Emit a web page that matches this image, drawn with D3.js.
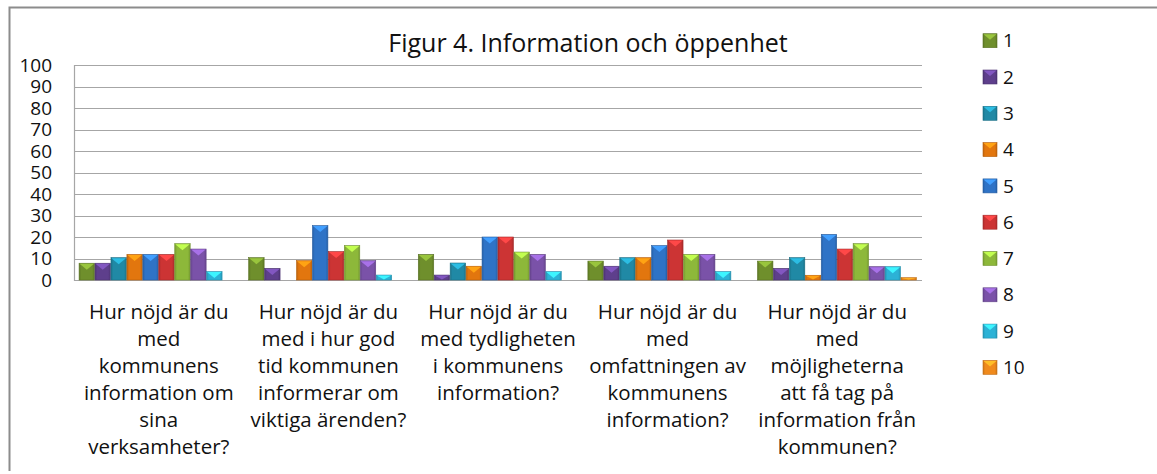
<!DOCTYPE html>
<html>
<head>
<meta charset="utf-8">
<script src="https://d3js.org/d3.v7.min.js"></script>
<style>
  body { margin: 0; background: #fff; }
  svg { display: block; font-family: "Open Sans", sans-serif; }
</style>
</head>
<body>
<script>
// chart text
var title = "Figur 4. Information och öppenhet";

// x categories, already broken into lines like in the original
var categories = [
  ["Hur nöjd är du", "med", "kommunens", "information om", "sina", "verksamheter?"],
  ["Hur nöjd är du", "med i hur god", "tid kommunen", "informerar om", "viktiga ärenden?"],
  ["Hur nöjd är du", "med tydligheten", "i kommunens", "information?"],
  ["Hur nöjd är du", "med", "omfattningen av", "kommunens", "information?"],
  ["Hur nöjd är du", "med", "möjligheterna", "att få tag på", "information från", "kommunen?"]
];

// answer grades 1..10 (legend)
var series = ["1", "2", "3", "4", "5", "6", "7", "8", "9", "10"];

// share (%) for each grade, one array per question
var q1 = [7.8, 7.8, 10.4, 11.9, 11.9, 11.9, 16.9, 14.4, 3.9, 0];
var q2 = [10.4, 5.4, 0, 9.0, 25.3, 13.2, 16.0, 9.0, 2.3, 0];
var q3 = [11.9, 2.3, 7.9, 6.4, 20.0, 20.0, 13.0, 11.9, 3.9, 0];
var q4 = [8.8, 6.4, 10.4, 10.4, 16.0, 18.6, 11.9, 11.9, 3.9, 0];
var q5 = [8.8, 5.4, 10.4, 2.2, 21.2, 14.4, 16.9, 6.2, 6.2, 1.1];
var values = [q1, q2, q3, q4, q5];

var yTicks = [0, 10, 20, 30, 40, 50, 60, 70, 80, 90, 100];

var colors = ["#6f8f2c", "#5e3f8c", "#2089a5", "#e2760e", "#2f73c6",
              "#cc3434", "#8db83a", "#7a52a8", "#2cb2d6", "#f08a1c"];

var width = 1157, height = 474;
var plotLeft = 74, plotRight = 922, plotTop = 65, plotBottom = 280;

var svg = d3.select("body").append("svg")
    .attr("width", width)
    .attr("height", height);

// gradients to get the bevelled excel look
var defs = svg.append("defs");
colors.forEach(function(c, i) {
  var g = defs.append("linearGradient")
      .attr("id", "grad" + i)
      .attr("x1", "0").attr("x2", "1").attr("y1", "0").attr("y2", "0");
  g.append("stop").attr("offset", "0").attr("stop-color", d3.color(c).darker(0.5));
  g.append("stop").attr("offset", "0.15").attr("stop-color", c);
  g.append("stop").attr("offset", "0.85").attr("stop-color", c);
  g.append("stop").attr("offset", "1").attr("stop-color", d3.color(c).darker(0.5));
});

// frame
svg.append("path")
    .attr("d", "M9.5,471V7.5H" + width)
    .attr("fill", "none")
    .attr("stroke", "#8c8c8c")
    .attr("stroke-width", 2);

var x0 = d3.scaleBand()
    .domain(d3.range(categories.length))
    .range([plotLeft, plotRight])
    .paddingInner(0.06)
    .paddingOuter(0.03);

var x1 = d3.scaleBand()
    .domain(d3.range(series.length))
    .range([0, x0.bandwidth()]);

var y = d3.scaleLinear()
    .domain([0, 100])
    .range([plotBottom, plotTop]);

// gridlines
svg.append("g")
  .selectAll("line")
  .data(yTicks)
  .enter().append("line")
    .attr("x1", plotLeft)
    .attr("x2", plotRight)
    .attr("y1", function(d) { return Math.round(y(d)) + 0.5; })
    .attr("y2", function(d) { return Math.round(y(d)) + 0.5; })
    .attr("stroke", "#a6a6a6")
    .attr("stroke-width", 1.2);

// y axis line
svg.append("line")
    .attr("x1", plotLeft + 0.5).attr("x2", plotLeft + 0.5)
    .attr("y1", plotTop).attr("y2", plotBottom + 1)
    .attr("stroke", "#a6a6a6")
    .attr("stroke-width", 1.2);

// y tick labels
svg.append("g")
  .selectAll("text")
  .data(yTicks)
  .enter().append("text")
    .attr("x", 52)
    .attr("y", function(d) { return y(d); })
    .attr("dy", "0.35em")
    .attr("text-anchor", "end")
    .attr("font-size", 19)
    .attr("fill", "#111")
    .text(function(d) { return d; });

// bars
var groups = svg.append("g")
  .selectAll("g")
  .data(values)
  .enter().append("g")
    .attr("transform", function(d, i) { return "translate(" + x0(i) + ",0)"; });

var bar = groups.selectAll("g")
  .data(function(d) { return d.map(function(v, j) { return {s: j, v: v}; }); })
  .enter().filter(function(d) { return d.v > 0; })
  .append("g");

bar.append("rect")
    .attr("x", function(d) { return x1(d.s); })
    .attr("y", function(d) { return y(d.v); })
    .attr("width", x1.bandwidth() - 0.5)
    .attr("height", function(d) { return y(0) - y(d.v); })
    .attr("fill", function(d) { return "url(#grad" + d.s + ")"; })
    .attr("stroke", function(d) { return d3.color(colors[d.s]).darker(0.6); })
    .attr("stroke-width", 0.6);

// lighter bevel triangle on top of every bar
bar.append("path")
    .attr("d", function(d) {
      var x = x1(d.s) + 0.5, w = x1.bandwidth() - 1.5;
      var t = y(d.v) + 0.5, h = Math.min(6, y(0) - y(d.v) - 1);
      return "M" + x + "," + t + "H" + (x + w) + "L" + (x + w / 2) + "," + (t + h) + "Z";
    })
    .attr("fill", function(d) { return d3.color(colors[d.s]).brighter(0.9); });

// category labels
svg.append("g")
  .selectAll("text")
  .data(categories)
  .enter().append("text")
    .attr("x", function(d, i) { return x0(i) + x0.bandwidth() / 2; })
    .attr("y", 312)
    .attr("text-anchor", "middle")
    .attr("font-size", 20.5)
    .attr("fill", "#111")
  .selectAll("tspan")
  .data(function(d) { return d; })
  .enter().append("tspan")
    .attr("x", function() { return this.parentNode.getAttribute("x"); })
    .attr("y", function(d, i) { return 312 + i * 27; })
    .attr("dy", "0.35em")
    .text(function(d) { return d; });

// title
svg.append("text")
    .attr("x", 588)
    .attr("y", 52)
    .attr("text-anchor", "middle")
    .attr("font-size", 25)
    .attr("fill", "#111")
    .text(title);

// legend
var legend = svg.append("g")
  .selectAll("g")
  .data(series)
  .enter().append("g")
    .attr("transform", function(d, i) { return "translate(983," + (40.7 + i * 36.3) + ")"; });

legend.append("rect")
    .attr("x", 0).attr("y", -7)
    .attr("width", 14).attr("height", 14)
    .attr("fill", function(d, i) { return "url(#grad" + i + ")"; })
    .attr("stroke", function(d, i) { return d3.color(colors[i]).darker(0.6); })
    .attr("stroke-width", 0.6);

legend.append("path")
    .attr("d", "M0.5,-6.5H13.5L7,-1Z")
    .attr("fill", function(d, i) { return d3.color(colors[i]).brighter(0.9); });

legend.append("text")
    .attr("x", 20)
    .attr("dy", "0.35em")
    .attr("font-size", 19)
    .attr("fill", "#111")
    .text(function(d) { return d; });
</script>
</body>
</html>
